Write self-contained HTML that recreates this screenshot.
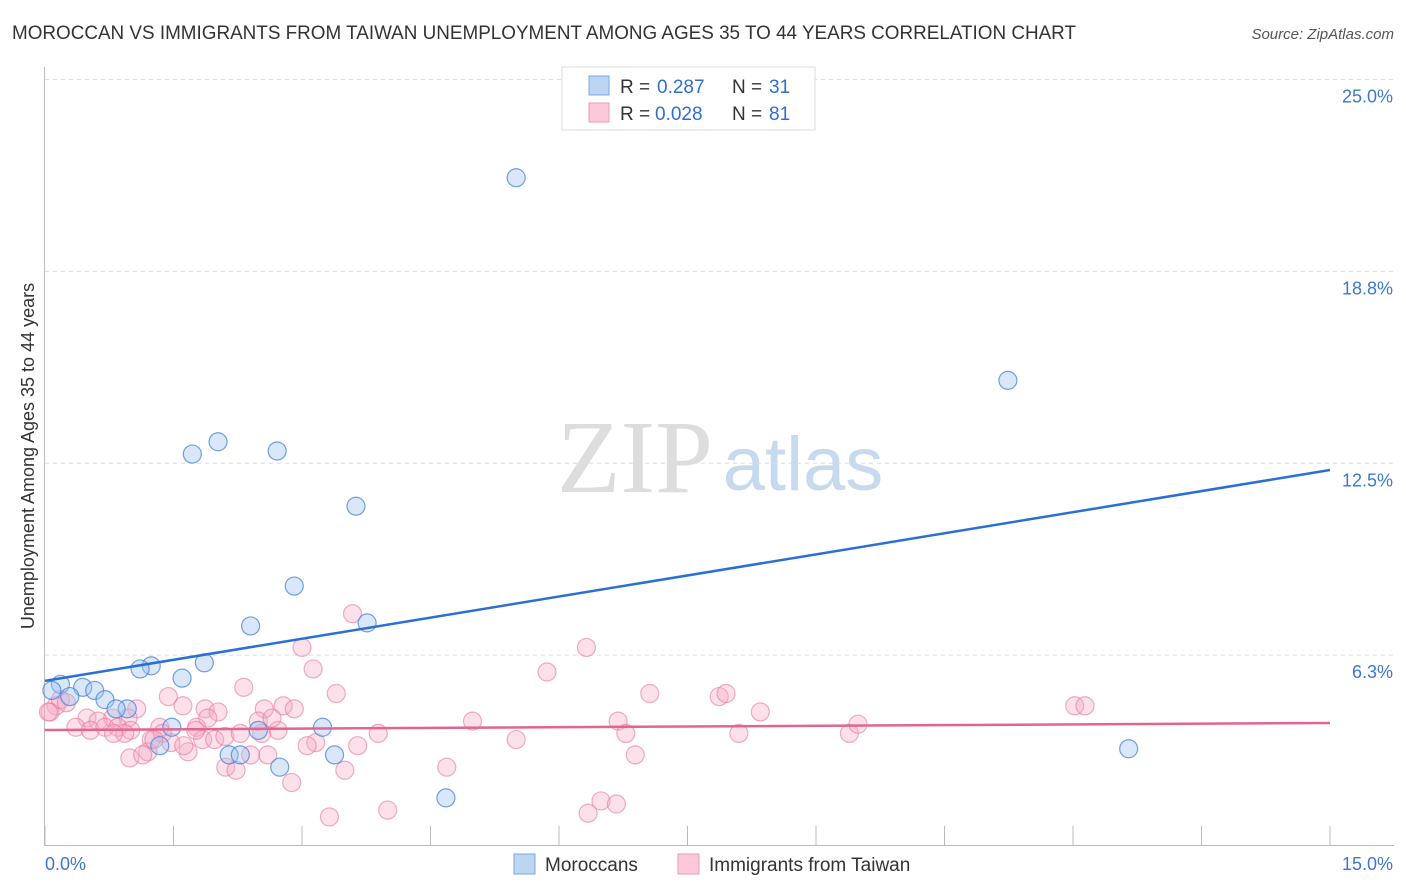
<!DOCTYPE html>
<html><head><meta charset="utf-8"><style>
body{margin:0;background:#fff;font-family:"Liberation Sans",sans-serif;}
#wrap{position:relative;width:1406px;height:892px;overflow:hidden;}
</style></head><body>
<div id="wrap">
<svg id="svg" width="1406" height="892" xmlns="http://www.w3.org/2000/svg">
<text x="12" y="39" font-size="19" fill="#333" textLength="1064" lengthAdjust="spacingAndGlyphs">MOROCCAN VS IMMIGRANTS FROM TAIWAN UNEMPLOYMENT AMONG AGES 35 TO 44 YEARS CORRELATION CHART</text>
<text x="1394" y="39" font-size="15" fill="#555" font-style="italic" text-anchor="end">Source: ZipAtlas.com</text>
<text x="635" y="492" font-size="104" fill="#ddd" font-family="Liberation Serif,serif" text-anchor="middle">ZIP</text>
<text x="803" y="490" font-size="76" fill="#c5d9ef" text-anchor="middle">atlas</text>
<g id="grid"></g><g id="marks"></g>
<text transform="translate(34,456) rotate(-90)" font-size="18" fill="#333" text-anchor="middle">Unemployment Among Ages 35 to 44 years</text>
<g>
<rect x="562" y="67" width="253" height="63" fill="#fff" stroke="#ddd"/>
<rect x="589" y="76" width="20" height="19" fill="#bcd5f3" stroke="#7aa8e0"/>
<rect x="589" y="103" width="20" height="19" fill="#fcc9d8" stroke="#ee9ab4"/>
<text x="620" y="93" font-size="19" fill="#333">R =</text>
<text x="657" y="93" font-size="19" fill="#2e6fd0">0.287</text>
<text x="732" y="93" font-size="19" fill="#333">N =</text>
<text x="769" y="93" font-size="19" fill="#2e6fd0">31</text>
<text x="620" y="120" font-size="19" fill="#333">R =</text>
<text x="655" y="120" font-size="19" fill="#2e6fd0">0.028</text>
<text x="732" y="120" font-size="19" fill="#333">N =</text>
<text x="769" y="120" font-size="19" fill="#2e6fd0">81</text>
</g>
<g>
<rect x="514" y="854" width="21" height="20" fill="#bcd5f3" stroke="#7aa8e0"/>
<text x="545" y="871" font-size="19" fill="#333">Moroccans</text>
<rect x="678" y="854" width="21" height="20" fill="#fcc9d8" stroke="#ee9ab4"/>
<text x="709" y="871" font-size="19" fill="#333">Immigrants from Taiwan</text>
</g>
</svg></div>
<script>
const yTicks=[6.25,12.5,18.75,25];
const yTickLabels=["6.3%","12.5%","18.8%","25.0%"];
const xTickLabels=["0.0%","15.0%"];
const blueX=[5.50,11.24,2.02,1.72,2.71,3.63,2.91,2.40,3.76,1.24,1.11,1.86,1.60,0.18,0.44,0.58,0.70,0.29,0.08,0.96,0.83,1.48,2.49,3.24,2.15,2.28,3.38,2.74,4.68,12.65,1.34];
const blueY=[21.8,15.2,13.2,12.8,12.9,11.1,8.5,7.2,7.3,5.9,5.8,6.0,5.5,5.3,5.2,5.1,4.8,4.9,5.1,4.5,4.5,3.9,3.8,3.9,3.0,3.0,3.0,2.6,1.6,3.2,3.3];
const pinkX=[3.59,3.00,3.13,2.32,3.40,1.44,1.61,1.07,1.87,2.56,2.78,2.91,2.02,1.90,0.97,0.79,0.49,0.62,0.36,0.53,0.70,0.85,1.00,1.24,1.34,1.37,1.77,1.84,1.98,1.76,1.47,1.20,1.67,0.99,1.14,2.10,2.28,2.53,2.72,2.49,2.65,3.16,3.06,3.65,3.89,2.60,2.40,2.11,2.23,2.88,3.50,3.32,4.00,0.13,0.06,0.18,0.25,0.04,1.27,1.62,0.93,0.80,
5.86,6.32,4.99,5.50,6.69,6.78,6.89,7.06,7.87,7.95,8.10,8.35,9.39,9.49,12.02,12.14,4.69,6.49,6.34,6.67];
const pinkY=[7.6,6.5,5.8,5.2,5.0,4.9,4.6,4.5,4.5,4.5,4.6,4.5,4.4,4.2,4.2,4.2,4.2,4.1,3.9,3.8,3.9,3.9,3.8,3.5,3.9,3.7,3.9,3.5,3.5,3.8,3.4,3.1,3.1,2.9,3.0,3.6,3.7,3.7,3.8,4.1,4.2,3.4,3.3,3.3,3.7,3.0,3.0,2.6,2.5,2.1,2.5,0.98,1.2,4.6,4.4,4.8,4.7,4.4,3.5,3.3,3.7,3.7,
5.7,6.5,4.1,3.5,4.1,3.7,3.0,5.0,4.9,5.0,3.7,4.4,3.7,4.0,4.6,4.6,2.6,1.5,1.1,1.4];
const trendBlue=[5.41,12.28];
const trendPink=[3.81,4.04];
const X0=45,X1=1330,XMAX=15;
const xs=v=>X0+v/XMAX*(X1-X0);
const ys=v=>847-v*30.7;
const NS="http://www.w3.org/2000/svg";
function mk(tag,attrs,parent){const e=document.createElementNS(NS,tag);for(const k in attrs)e.setAttribute(k,attrs[k]);parent.appendChild(e);return e;}
const grid=document.getElementById('grid'),marks=document.getElementById('marks');
yTicks.forEach((t,i)=>{
 const l=mk('line',{x1:45,x2:1394,y1:ys(t),y2:ys(t),stroke:'#ddd','stroke-dasharray':'4,4'},grid);
 
 
 const tx=mk('text',{x:1393,y:ys(t)+23,'font-size':18,fill:'#3b78d0','text-anchor':'end'},grid);
 tx.textContent=yTickLabels[i];
 
 
});
const ax=mk('line',{x1:44.5,x2:44.5,y1:67,y2:846,stroke:'#bbb'},grid);


const bx=mk('line',{x1:44,x2:1394,y1:845.5,y2:845.5,stroke:'#bbb'},grid);


for(let i=0;i<=10;i++){const x=X0+i*(X1-X0)/10;
 const t=mk('line',{x1:x,x2:x,y1:826,y2:846,stroke:'#bbb'},grid);
 
 }
xTickLabels.forEach((lab,i)=>{
 const t=mk('text',{x:i==0?45:1393,y:870,'font-size':18,fill:'#3b78d0','text-anchor':i==0?'start':'end'},grid);
 t.textContent=lab;
 
 });
pinkX.forEach((x,i)=>{const c=mk('circle',{cx:xs(x),cy:ys(pinkY[i]),r:9,fill:'rgba(247,170,195,0.35)',stroke:'rgba(230,120,155,0.6)','stroke-width':1.2},marks);
 
 });
blueX.forEach((x,i)=>{const c=mk('circle',{cx:xs(x),cy:ys(blueY[i]),r:9,fill:'rgba(160,195,240,0.4)',stroke:'rgba(70,130,215,0.75)','stroke-width':1.2},marks);
 
 });
const lb=mk('line',{x1:xs(0),x2:xs(15),y1:ys(trendBlue[0]),y2:ys(trendBlue[1]),stroke:'#2a6fd6','stroke-width':2.5},marks);


const lp=mk('line',{x1:xs(0),x2:xs(15),y1:ys(trendPink[0]),y2:ys(trendPink[1]),stroke:'#e0668f','stroke-width':2.5},marks);


</script></body></html>
